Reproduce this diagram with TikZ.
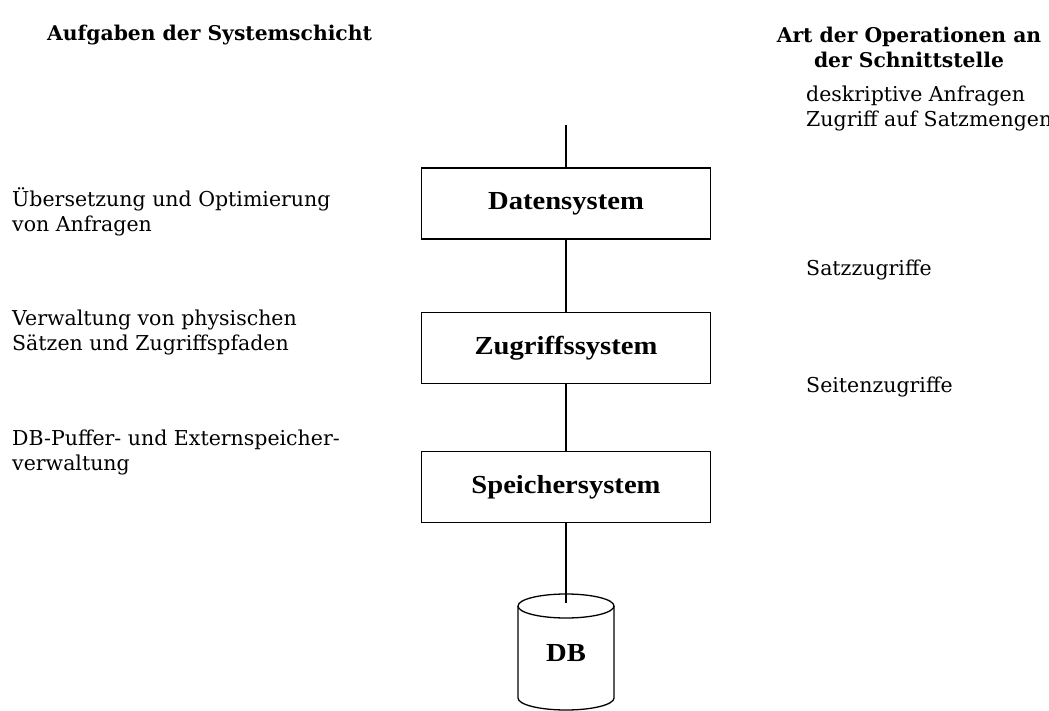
\documentclass[tikz,border=0pt]{standalone}
\usepackage{fontspec}
\setmainfont{DejaVu Serif}
\newfontfamily\boxfont[FakeStretch=1.1]{Liberation Serif}
\begin{document}
\begin{tikzpicture}[x=1pt,y=-1pt,
  every node/.style={inner sep=0pt},
  label/.style={anchor=west,align=left,font=\fontsize{20.5}{25}\selectfont},
  head/.style={font=\fontsize{20.3}{25}\selectfont\bfseries},
  layerfont/.style={font=\boxfont\fontsize{26}{28}\selectfont\bfseries},
  layer/.style={draw,line width=1.3pt,minimum width=289pt,minimum height=71pt,layerfont},
  link/.style={line width=1.3pt}]
\useasboundingbox (0,0) rectangle (1049,711);
% column headings
\node[head,anchor=west] (hl) at (47,35) {Aufgaben der Systemschicht};
\node[head,align=center] (hr) at (909,47) {Art der Operationen an\\der Schnittstelle};
% layers of the system
\coordinate (top) at (566,125);
\node[layer] (ds) at (566,203.5) {Datensystem};
\node[layer] (zs) at (566,348) {Zugriffssystem};
\node[layer] (ss) at (566,487) {Speichersystem};
% database cylinder
\draw[link] (518,606) -- (518,698) arc[start angle=180,end angle=0,x radius=48,y radius=12]
  -- (614,606);
\draw[link,fill=white] (566,606) ellipse[x radius=48,y radius=12];
\node[layerfont] (db) at (566,653) {DB};
\coordinate (dbcap) at (566,603);
% connections between the layers
\draw[link] (top) -- (ds.north);
\draw[link] (ds.south) -- (zs.north);
\draw[link] (zs.south) -- (ss.north);
\draw[link] (ss.south) -- (dbcap);
% tasks of each layer
\node[label] (t1) at (12,212) {Übersetzung und Optimierung\\von Anfragen};
\node[label] (t2) at (12,332) {Verwaltung von physischen\\Sätzen und Zugriffspfaden};
\node[label] (t3) at (12,452) {DB-Puffer- und Externspeicher-\\verwaltung};
% operations at the interfaces
\node[label] (o1) at (806,108) {deskriptive Anfragen\\Zugriff auf Satzmengen};
\node[label] (o2) at (806,270) {Satzzugriffe};
\node[label] (o3) at (806,387) {Seitenzugriffe};
\end{tikzpicture}
\end{document}
